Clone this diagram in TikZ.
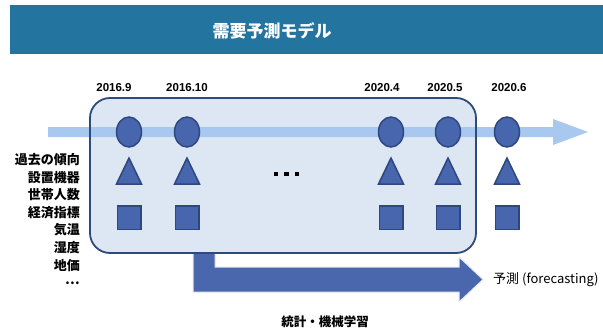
\documentclass[tikz,border=0pt]{standalone}
\usepackage{fontspec}
\setmainfont{Liberation Sans}
\newfontfamily\jp{Noto Sans CJK JP}
\usetikzlibrary{shapes.geometric}
\definecolor{hdr}{HTML}{2474A0}
\definecolor{boxfill}{HTML}{DDE7F3}
\definecolor{boxline}{HTML}{2E4A7A}
\definecolor{band}{HTML}{A8C8F0}
\definecolor{shpfill}{HTML}{4866AD}
\definecolor{shpline}{HTML}{2F477F}
\definecolor{bent}{HTML}{4A66AC}
\tikzset{
  shp/.style={fill=shpfill,draw=shpline,line width=1.5pt},
  circ/.style={shp,ellipse,minimum width=25pt,minimum height=30pt,inner sep=0pt},
  sq/.style={shp,rectangle,minimum size=23.5pt,inner sep=0pt},
  date/.style={font=\bfseries\fontsize{11.5}{12}\selectfont,inner sep=0pt},
  feat/.style={font=\jp\bfseries\fontsize{13}{13}\selectfont,inner sep=0pt,anchor=east},
}
\begin{document}
\begin{tikzpicture}[x=1pt,y=-1pt]
\useasboundingbox (0,0) rectangle (603,332);
% header
\fill[hdr] (10,5) rectangle (603,54);
\node[text=white,font=\jp\bfseries\fontsize{17}{18}\selectfont] (title) at (272,31) {需要予測モデル};
% bent arrow (behind box)
\path[fill=bent,draw=white!85!bent,line width=1pt]
  (193,240) -- (193,292) -- (459,292) -- (459,302) -- (483,279.5) -- (459,257) -- (459,267) -- (215,267) -- (215,240) -- cycle;
% box
\fill[boxfill,rounded corners=20pt] (90,98) rectangle (476,253);
% timeline band
\fill[band] (48,127) -- (553,127) -- (553,119) -- (588,132) -- (553,145) -- (553,137) -- (48,137) -- cycle;
\node[draw=boxline,line width=1.8pt,rounded corners=20pt,minimum width=386pt,minimum height=155pt,inner sep=0pt] (box) at (283,175.5) {};
% columns
\foreach \x/\n in {129/a,187/b,391/c,448/d,507/e}{
  \node[circ] (c\n) at (\x,132) {};
  \coordinate (t\n) at (\x,171);
  \path[shp] (t\n) ++(0,-13) -- ++(12.5,26) -- ++(-25,0) -- cycle;
  \node[sq] (s\n) at (\x,217.5) {};
}
% dates
\node[date] (d1) at (114,88) {2016.9};
\node[date] (d2) at (187,88) {2016.10};
\node[date] (d3) at (382,88) {2020.4};
\node[date] (d4) at (445,88) {2020.5};
\node[date] (d5) at (509,88) {2020.6};
% dots
\foreach \x/\n in {276/1,286.5/2,297/3}{
  \node[fill=black,minimum size=4.5pt,inner sep=0pt] (dot\n) at (\x,174) {};
}
% features
\node[feat] (f1) at (80,160) {過去の傾向};
\node[feat] (f2) at (80,178) {設置機器};
\node[feat] (f3) at (80,195) {世帯人数};
\node[feat] (f4) at (80,213) {経済指標};
\node[feat] (f5) at (80,230) {気温};
\node[feat] (f6) at (80,248) {湿度};
\node[feat] (f7) at (80,266) {地価};
\node[feat] (f8) at (80,283) {…};
% labels
\node[anchor=west,inner sep=0pt,font=\jp\fontsize{13}{13}\selectfont] (fc) at (493,280) {予測 (forecasting)};
\node[inner sep=0pt,font=\jp\bfseries\fontsize{12.5}{13}\selectfont] (ml) at (325,322) {統計・機械学習};
\end{tikzpicture}
\end{document}
